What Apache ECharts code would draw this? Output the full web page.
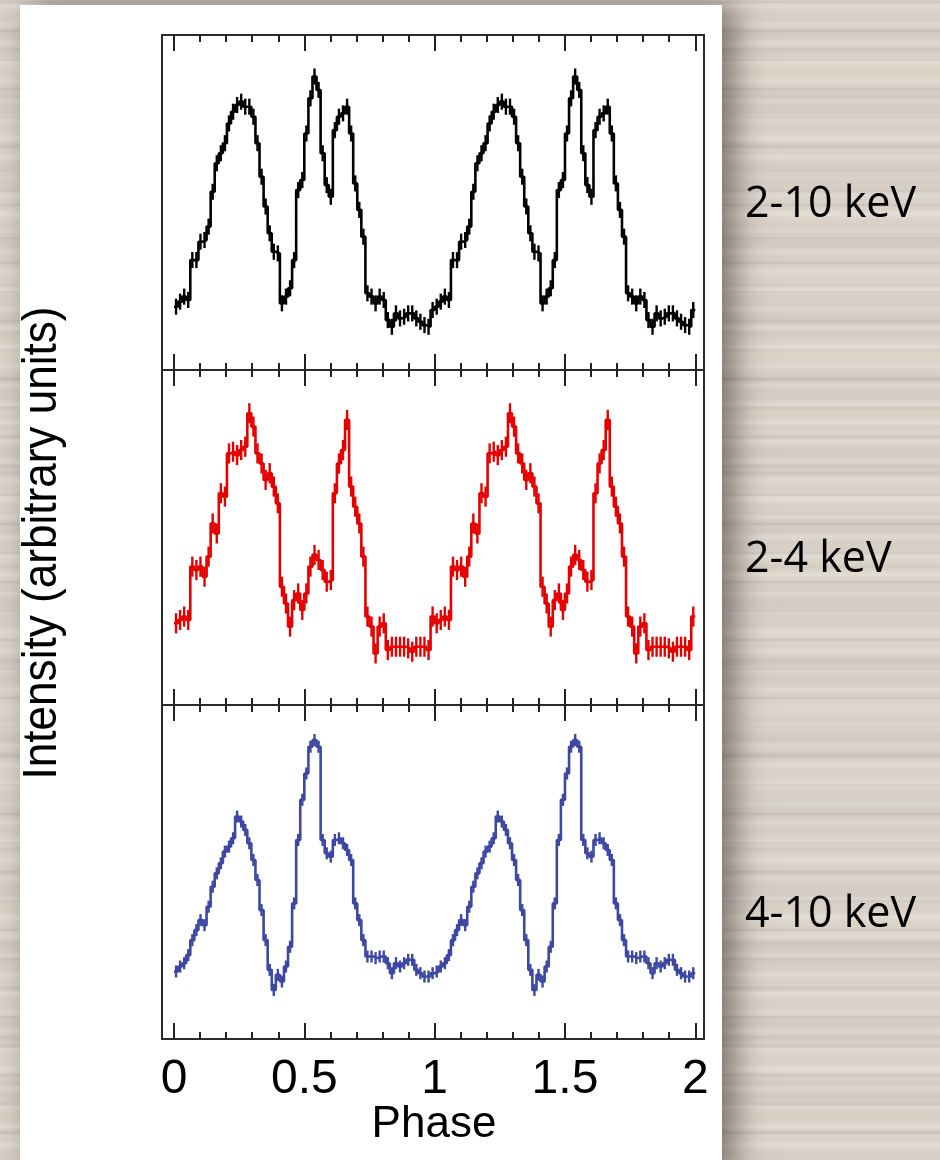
<!DOCTYPE html>
<html>
<head>
<meta charset="utf-8">
<script src="https://cdn.jsdelivr.net/npm/echarts@6/dist/echarts.min.js"></script>
<style>
  html, body { margin: 0; padding: 0; }
  body {
    width: 940px; height: 1160px; overflow: hidden;
    background-color: #dcd4c9;
    background-image:
      repeating-linear-gradient(180deg, rgba(255,255,255,0) 0px, rgba(255,255,255,0.22) 5px, rgba(255,255,255,0) 11px, rgba(255,255,255,0) 19px),
      repeating-linear-gradient(180deg, rgba(130,120,135,0) 0px, rgba(130,120,135,0.16) 2px, rgba(130,120,135,0) 4px, rgba(130,120,135,0) 29px),
      repeating-linear-gradient(180deg, rgba(130,120,135,0) 0px, rgba(130,120,135,0.10) 3px, rgba(130,120,135,0) 7px, rgba(130,120,135,0) 47px),
      repeating-linear-gradient(180deg, rgba(110,100,110,0) 0px, rgba(110,100,110,0.08) 30px, rgba(110,100,110,0) 71px);
  }
  #chart { width: 940px; height: 1160px; }
</style>
</head>
<body>
<div id="chart"></div>
<script>
// Folded pulse profile, 64 phase bins per rotation (one rotation listed, shown twice)
const BINS = 64;

const profile2to10 = [18.9, 20.4, 21.9, 20.9, 32.8, 32.8, 38.3, 38.8, 42.8, 53.2,
  61.7, 64.7, 67.7, 73.6, 77.1, 79.1, 80.1, 78.6, 78.6, 75.6,
  67.7, 57.7, 48.8, 40.8, 35.3, 34.8, 19.9, 21.9, 24.4, 32.8,
  53.7, 56.7, 70.6, 81.1, 87.6, 83.6, 64.7, 55.2, 51.7, 71.6,
  75.6, 76.6, 78.6, 70.6, 55.7, 47.8, 39.8, 22.9, 21.9, 19.9,
  21.9, 20.9, 14.9, 12.9, 16.9, 15.4, 15.9, 16.9, 16.9, 15.4,
  14.4, 13.4, 12.9, 17.9];

const profile2to4 = [24.4, 25.4, 26.4, 25.4, 41.3, 40.3, 41.3, 38.3, 44.3, 54.2,
  51.2, 63.2, 62.2, 75.1, 75.6, 74.6, 76.1, 77.1, 87.1, 83.1,
  75.1, 72.1, 67.2, 69.2, 65.2, 60.2, 35.3, 30.3, 23.4, 31.3,
  33.3, 28.4, 33.3, 41.3, 44.8, 43.3, 40.3, 36.8, 37.3, 63.2,
  72.1, 76.1, 85.1, 65.2, 59.2, 54.2, 44.3, 26.4, 23.4, 15.4,
  23.4, 24.4, 16.4, 17.4, 17.4, 17.4, 17.4, 16.9, 15.9, 17.4,
  17.4, 17.4, 16.4, 26.4];

const profile4to10 = [20.2, 21.7, 22.7, 25.1, 29.6, 32.6, 35.6, 34.1, 39.6, 45.6,
  49.6, 52.6, 56.1, 57.6, 60.1, 66.6, 65.1, 62.6, 58.6, 53.6,
  47.6, 38.6, 29.6, 20.7, 14.7, 19.2, 17.2, 21.7, 27.6, 40.6,
  59.6, 71.6, 79.5, 87.5, 89.5, 87.5, 59.6, 55.6, 54.6, 59.6,
  60.1, 58.6, 56.6, 53.6, 40.6, 35.6, 29.6, 24.7, 24.7, 24.2,
  24.7, 24.7, 22.7, 19.7, 22.7, 21.7, 22.7, 23.7, 23.7, 20.7,
  19.7, 18.7, 18.7, 19.7];

// one-sigma uncertainty per band (same units as the profiles)
const bandErrors = [2.4, 3.0, 1.8];

const bandNames = ['2-10 keV', '2-4 keV', '4-10 keV'];
const bandColors = ['#000000', '#e60000', '#3d48a3'];
const phaseLabels = ['0', '0.5', '1', '1.5', '2'];

const profiles = [profile2to10, profile2to4, profile4to10];

// panel geometry
const frameLeft = 162, frameWidth = 542;
const dataLeft = 174, dataWidth = 521.3;
const panelTops = [35, 370, 705];
const panelHeights = [335, 335, 334];

const chart = echarts.init(document.getElementById('chart'), null, { renderer: 'canvas' });

const grids = [];
const xAxes = [];
const yAxes = [];
const series = [];

// outer frames
panelTops.forEach((top, k) => {
  grids.push({
    left: frameLeft, top: top, width: frameWidth, height: panelHeights[k],
    show: true, borderColor: '#2a2a2a', borderWidth: 2,
    backgroundColor: 'transparent', outerBoundsMode: 'none', containLabel: false
  });
});

// data grids (phase 0..2)
panelTops.forEach((top, k) => {
  grids.push({
    left: dataLeft, top: top, width: dataWidth, height: panelHeights[k],
    show: false, outerBoundsMode: 'none', containLabel: false
  });
  const gi = 3 + k;
  ['bottom', 'top'].forEach(pos => {
    const withLabels = (pos === 'bottom' && k === 2);
    xAxes.push({
      type: 'value', gridIndex: gi, position: pos,
      min: 0, max: 2, interval: 0.5,
      axisLine: { show: false, onZero: false },
      axisTick: { show: true, inside: true, length: 16, lineStyle: { color: '#222', width: 2 } },
      minorTick: { show: true, splitNumber: 5, length: 7, lineStyle: { color: '#222', width: 2 } },
      splitLine: { show: false },
      minorSplitLine: { show: false },
      axisLabel: {
        show: withLabels, margin: 17,
        fontFamily: 'Liberation Sans', fontSize: 48, color: '#000',
        formatter: v => phaseLabels[Math.round(v / 0.5)]
      }
    });
  });
  yAxes.push({
    type: 'value', gridIndex: gi, min: 0, max: 100, show: false,
    splitLine: { show: false }
  });
});

profiles.forEach((prof, k) => {
  const vals = prof.concat(prof); // two rotations
  const n = vals.length;
  const stepData = vals.map((v, i) => [i / BINS, v]);
  stepData.push([n / BINS, vals[n - 1]]);
  const errData = vals.map((v, i) => [(i + 0.5) / BINS, v, bandErrors[k]]);

  series.push({
    type: 'line', xAxisIndex: 2 * k, yAxisIndex: k,
    data: stepData, step: 'end', showSymbol: false, symbol: 'none',
    lineStyle: { color: bandColors[k], width: 2.6 },
    animation: false, silent: true, z: 3
  });
  series.push({
    type: 'custom', xAxisIndex: 2 * k, yAxisIndex: k,
    data: errData, animation: false, silent: true, z: 3,
    renderItem: (params, api) => {
      const x = api.value(0), v = api.value(1), e = api.value(2);
      const p1 = api.coord([x, v - e]);
      const p2 = api.coord([x, v + e]);
      return {
        type: 'line',
        shape: { x1: p1[0], y1: p1[1], x2: p2[0], y2: p2[1] },
        style: { stroke: bandColors[k], lineWidth: 2.4 }
      };
    }
  });
});

const graphics = [
  {
    type: 'rect', z: -10, silent: true,
    shape: { x: 20, y: 5, width: 702, height: 1170 },
    style: { fill: '#ffffff', shadowBlur: 30, shadowOffsetX: 12, shadowOffsetY: 0, shadowColor: 'rgba(40,30,25,0.55)' }
  },
  {
    type: 'text', x: 42, y: 543, rotation: Math.PI / 2, scaleX: 0.9, silent: true,
    style: {
      text: 'Intensity (arbitrary units)', x: 0, y: 0,
      font: '49px "Liberation Sans"', fill: '#000',
      textAlign: 'center', textVerticalAlign: 'middle', align: 'center', verticalAlign: 'middle'
    }
  },
  {
    type: 'text', x: 434, y: 1125, silent: true,
    style: {
      text: 'Phase', x: 0, y: 0,
      font: '44px "Liberation Sans"', fill: '#000',
      textAlign: 'center', textVerticalAlign: 'middle', align: 'center', verticalAlign: 'middle'
    }
  }
];
const labelY = [205, 560, 915];
bandNames.forEach((name, k) => {
  graphics.push({
    type: 'text', x: 745, y: labelY[k], silent: true,
    style: {
      text: name, x: 0, y: 0,
      font: '43px "Open Sans"', fill: '#000',
      textAlign: 'left', textVerticalAlign: 'middle', align: 'left', verticalAlign: 'middle'
    }
  });
});

chart.setOption({
  backgroundColor: 'transparent',
  animation: false,
  grid: grids,
  xAxis: xAxes,
  yAxis: yAxes,
  series: series,
  graphic: { elements: graphics }
});
</script>
</body>
</html>
